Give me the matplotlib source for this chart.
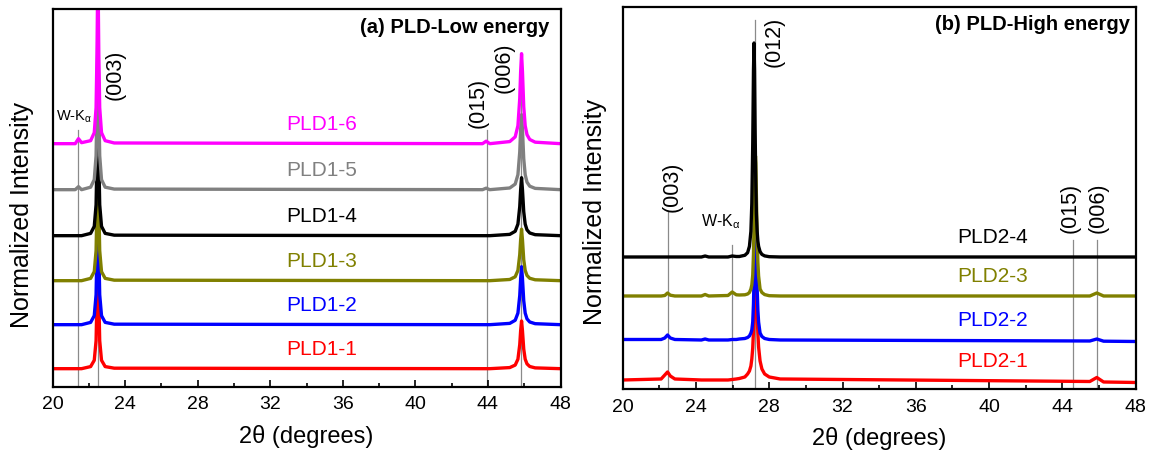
import matplotlib
matplotlib.use("Agg")
import matplotlib.pyplot as plt
from matplotlib.ticker import MultipleLocator

plt.rcParams['font.family'] = ['Liberation Sans', 'DejaVu Sans']
plt.rcParams['mathtext.fontset'] = 'custom'
plt.rcParams['mathtext.rm'] = 'Liberation Sans'
plt.rcParams['mathtext.it'] = 'Liberation Sans'

# ---------------- Panel (a): PLD-Low energy ----------------
two_theta_a = [20.0, 21.25, 21.43, 21.6, 22.1, 22.3, 22.4, 22.45, 22.5, 22.55, 22.6, 22.7,
               22.9, 23.4, 43.7, 43.9, 44.1, 45.2, 45.5, 45.65, 45.75, 45.8, 45.85, 45.9,
               45.97, 46.05, 46.15, 46.3, 46.6, 48.0]
pld1_1 = [0, 0, 0, 0, .021, .084, .28, .7, 1.4, .7, .28, .084, .021, .005, 0, 0, 0,
          .011, .036, .095, .24, .38, .477, .38, .196, .095, .048, .022, .008, 0]
pld1_2 = [0, 0, 0, 0, .023, .09, .3, .75, 1.5, .75, .3, .09, .023, .005, 0, 0, 0,
          .013, .044, .116, .29, .46, .58, .46, .24, .116, .058, .027, .01, 0]
pld1_3 = [0, 0, 0, 0, .023, .09, .3, .75, 1.5, .75, .3, .09, .023, .005, 0, 0, 0,
          .012, .039, .103, .26, .41, .515, .41, .21, .103, .052, .024, .009, 0]
pld1_4 = [0, 0, 0, 0, .023, .093, .31, .78, 1.55, .78, .31, .093, .023, .005, 0, 0, 0,
          .013, .044, .116, .29, .46, .58, .46, .24, .116, .058, .027, .01, 0]
pld1_5 = [0, 0, .03, 0, .025, .10, .34, .84, 1.68, .84, .34, .10, .025, .006, 0, .015, 0,
          .017, .056, .15, .375, .6, .75, .6, .31, .15, .075, .035, .013, 0]
pld1_6 = [0, 0, .05, .01, .03, .11, .36, .9, 1.8, .9, .36, .11, .03, .007, 0, .025, 0,
          .021, .068, .18, .45, .72, .9, .72, .37, .18, .09, .042, .015, 0]
names_a = ["PLD1-1", "PLD1-2", "PLD1-3", "PLD1-4", "PLD1-5", "PLD1-6"]
series_a = [pld1_1, pld1_2, pld1_3, pld1_4, pld1_5, pld1_6]
offsets_a = [0.18, 0.62, 1.06, 1.51, 1.97, 2.43]
colors_a = ["#ff0000", "#0000ff", "#808000", "#000000", "#808080", "#ff00ff"]
# reference lines: position, top
refs_a = [(21.43, 2.57), (22.49, 3.6), (43.95, 2.57), (45.84, 3.2)]

# ---------------- Panel (b): PLD-High energy ----------------
two_theta_b = [20.0, 22.1, 22.3, 22.45, 22.6, 22.85, 24.3, 24.5, 24.7, 25.75, 25.98, 26.2,
               26.37, 26.67, 26.82, 26.92, 27.0, 27.05, 27.1, 27.14, 27.17, 27.2, 27.23,
               27.25, 27.27, 27.3, 27.34, 27.38, 27.42, 27.5, 27.6, 27.75, 28.0, 28.6,
               45.5, 45.88, 46.25, 48.0]
pld2_1 = [.01, .02, .06, .09, .05, .02, .01, .01, .01, .01, .015, .02,
          .025, .04, .07, .1, .15, .22, .33, .5, .65, .8, .95,
          1.0, .97, .85, .66, .48, .34, .2, .12, .07, .04, .02,
          -.005, .035, -.01, -.015]
pld2_2 = [.005, .005, .02, .05, .02, .005, 0, .01, 0, 0, .005, .005,
          .01, .015, .025, .04, .07, .1, .18, .36, .6, .86, 1.14,
          1.2, 1.14, .86, .52, .3, .18, .07, .035, .015, .005, 0,
          -.01, .01, -.012, -.015]
pld2_3 = [0, 0, .005, .03, .008, 0, 0, .015, 0, .005, .04, .012,
          .01, .012, .02, .035, .07, .11, .21, .42, .7, 1.0, 1.33,
          1.4, 1.33, 1.0, .6, .34, .2, .07, .035, .014, .003, 0,
          0, .03, 0, 0]
pld2_4 = [0, 0, 0, 0, 0, 0, 0, .01, 0, 0, .01, .005,
          .005, .017, .043, .107, .257, .535, 1.13, 1.86, 2.14, 1.86, 1.28,
          .98, .706, .43, .257, .16, .107, .054, .026, .011, .003, 0,
          0, 0, 0, 0]
names_b = ["PLD2-1", "PLD2-2", "PLD2-3", "PLD2-4"]
series_b = [pld2_1, pld2_2, pld2_3, pld2_4]
offsets_b = [0.08, 0.49, 0.93, 1.32]
colors_b = ["#ff0000", "#0000ff", "#808000", "#000000"]
refs_b = [(22.46, 1.77), (25.98, 1.44), (27.23, 3.69), (44.6, 1.49), (45.9, 1.49)]

fig = plt.figure(figsize=(11.52, 4.53), dpi=100)
ax_a = fig.add_axes([0.0456, 0.1464, 0.441, 0.8338])
ax_b = fig.add_axes([0.5405, 0.1413, 0.4453, 0.8426])


def style(ax, ymax):
    ax.set_xlim(20, 48)
    ax.set_ylim(0, ymax)
    ax.xaxis.set_major_locator(MultipleLocator(4))
    ax.xaxis.set_minor_locator(MultipleLocator(2))
    ax.tick_params(axis='x', which='major', direction='in', length=5, width=1.2,
                   labelsize=14, pad=7)
    ax.tick_params(axis='x', which='minor', direction='in', length=3, width=1.2)
    ax.set_yticks([])
    for s in ax.spines.values():
        s.set_linewidth(1.6)
    ax.set_xlabel("2θ (degrees)", fontsize=17, labelpad=8)
    ax.set_ylabel("Normalized Intensity", fontsize=18)


style(ax_a, 3.777)
style(ax_b, 3.817)
ax_a.yaxis.set_label_coords(-0.036, 0.455)
ax_b.yaxis.set_label_coords(-0.030, 0.464)

line_col = "#8a8a8a"
for x, top in refs_a:
    ax_a.plot([x, x], [0, top], color=line_col, lw=0.9, zorder=1)
for x, top in refs_b:
    ax_b.plot([x, x], [0, top], color=line_col, lw=0.9, zorder=1)

for name, ys, off, c in zip(names_a, series_a, offsets_a, colors_a):
    ax_a.plot(two_theta_a, [off + v for v in ys], color=c, lw=2.4, zorder=2,
              solid_joinstyle='round')
    ax_a.text(34.85, off + 0.19, name, color=c, fontsize=15, ha='center', va='center')

for name, ys, off, c in zip(names_b, series_b, offsets_b, colors_b):
    ax_b.plot(two_theta_b, [off + v for v in ys], color=c, lw=2.4, zorder=2,
              solid_joinstyle='round')
    ax_b.text(40.2, off + 0.19, name, color=c, fontsize=15, ha='center', va='center')

ann = 15.5
# annotations panel (a)
ax_a.text(21.16, 2.70, r"W-K$_{\alpha}$", fontsize=10.5, ha='center', va='center')
ax_a.text(23.47, 3.12, "(003)", fontsize=ann, rotation=90, ha='center', va='center')
ax_a.text(43.44, 2.84, "(015)", fontsize=ann, rotation=90, ha='center', va='center')
ax_a.text(44.9, 3.19, "(006)", fontsize=ann, rotation=90, ha='center', va='center')
ax_a.text(0.977, 0.95, "(a) PLD-Low energy", transform=ax_a.transAxes, fontsize=14.5,
          fontweight='bold', ha='right', va='center')

# annotations panel (b)
ax_b.text(25.35, 1.67, r"W-K$_{\alpha}$", fontsize=11.5, ha='center', va='center')
ax_b.text(22.72, 2.02, "(003)", fontsize=ann, rotation=90, ha='center', va='center')
ax_b.text(28.26, 3.47, "(012)", fontsize=ann, rotation=90, ha='center', va='center')
ax_b.text(44.45, 1.81, "(015)", fontsize=ann, rotation=90, ha='center', va='center')
ax_b.text(45.97, 1.81, "(006)", fontsize=ann, rotation=90, ha='center', va='center')
ax_b.text(0.989, 0.954, "(b) PLD-High energy", transform=ax_b.transAxes, fontsize=14.5,
          fontweight='bold', ha='right', va='center')

fig.savefig("out.png", dpi=100)
